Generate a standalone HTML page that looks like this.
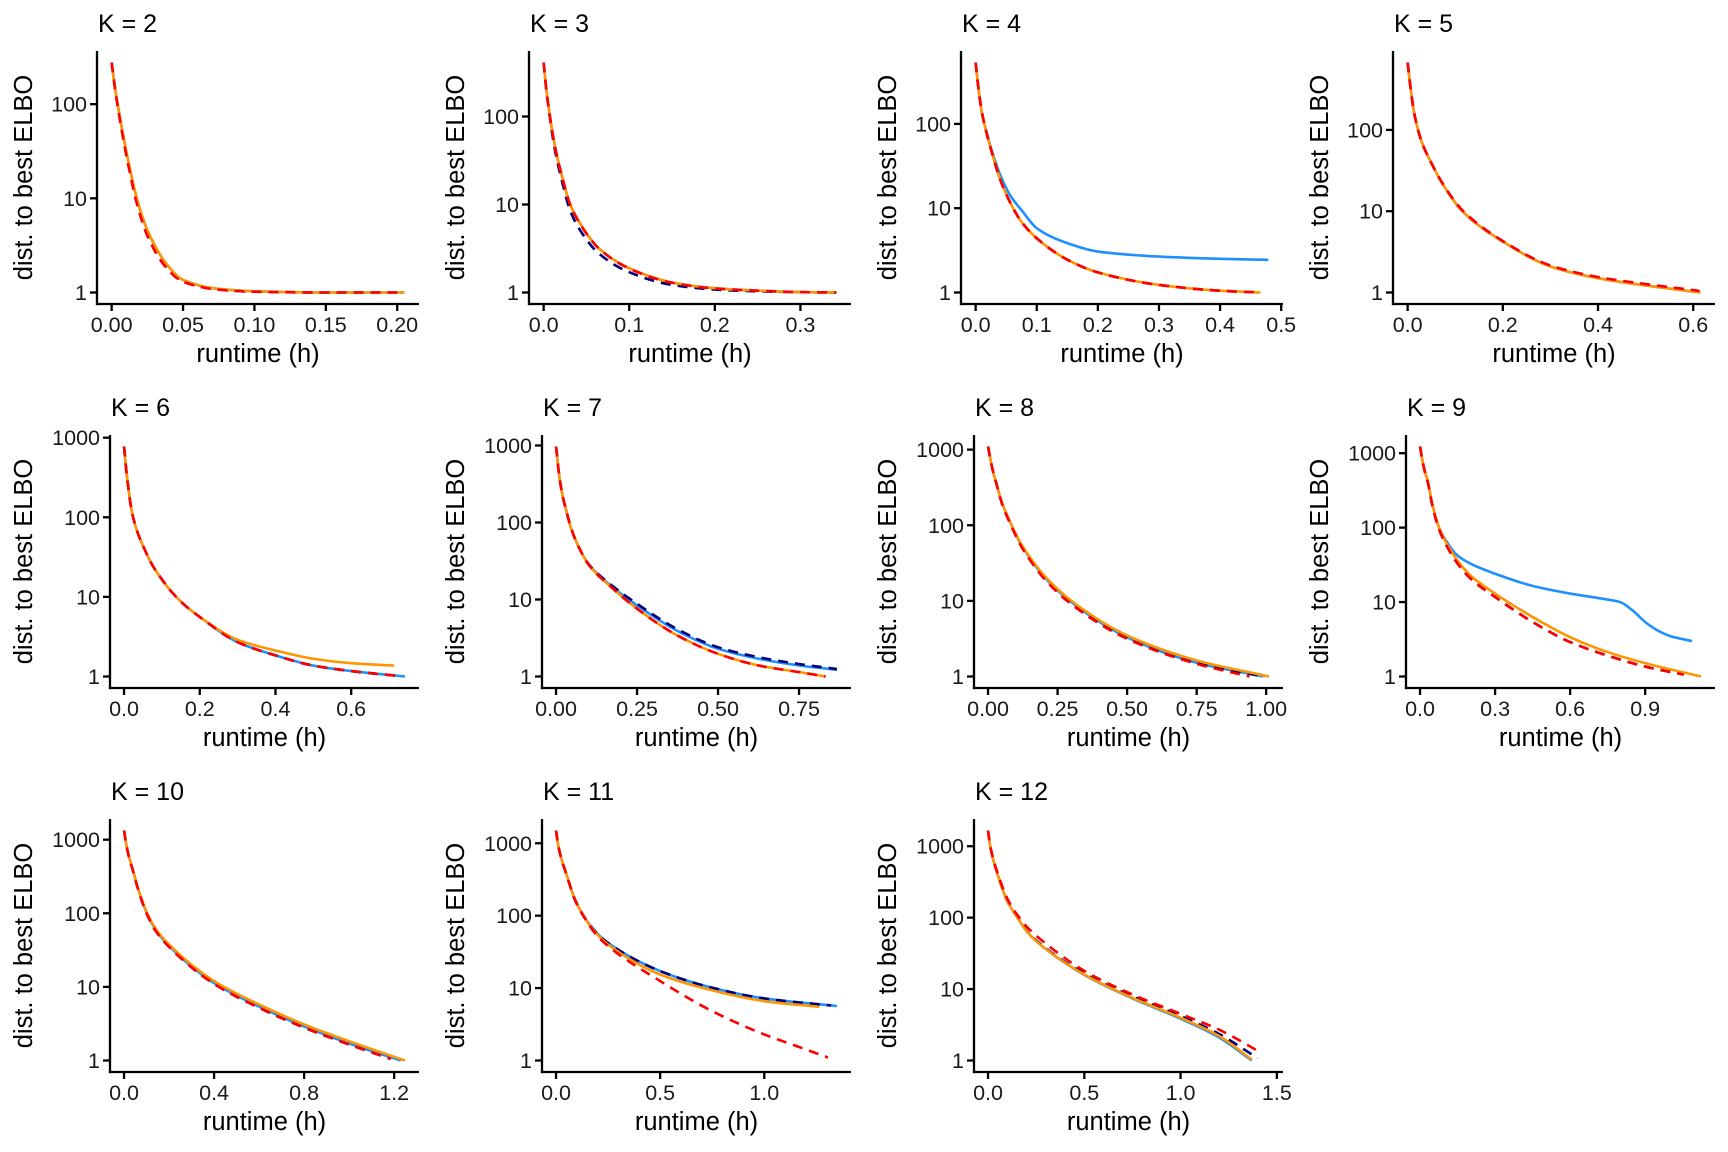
<!DOCTYPE html>
<html><head><meta charset="utf-8"><style>
html,body{margin:0;padding:0;background:#fff;}
svg{display:block;font-family:"Liberation Sans",Arial,sans-serif;}
</style></head><body>
<svg id="chart" width="1728" height="1152" viewBox="0 0 1728 1152" xmlns="http://www.w3.org/2000/svg"></svg>
<script>
// ---- data (runtime in hours, distance to best ELBO) ----
const panelK = [2,3,4,5,6,7,8,9,10,11,12];
const panelXmax = [0.205,0.342,0.479,0.615,0.742,0.867,1.01,1.123,1.248,1.349,1.459];
const xTicks = [[0,0.05,0.1,0.15,0.2],[0,0.1,0.2,0.3],[0,0.1,0.2,0.3,0.4,0.5],[0,0.2,0.4,0.6],[0,0.2,0.4,0.6],[0,0.25,0.5,0.75],[0,0.25,0.5,0.75,1],[0,0.3,0.6,0.9],[0,0.4,0.8,1.2],[0,0.5,1.0],[0,0.5,1.0,1.5]];
const xTickLabels = [["0.00","0.05","0.10","0.15","0.20"],["0.0","0.1","0.2","0.3"],["0.0","0.1","0.2","0.3","0.4","0.5"],["0.0","0.2","0.4","0.6"],["0.0","0.2","0.4","0.6"],["0.00","0.25","0.50","0.75"],["0.00","0.25","0.50","0.75","1.00"],["0.0","0.3","0.6","0.9"],["0.0","0.4","0.8","1.2"],["0.0","0.5","1.0"],["0.0","0.5","1.0","1.5"]];
const yTicks = [1,10,100,1000];
const yTickLabels = ["1","10","100","1000"];

const k2_x = [0,0.0025,0.005,0.0075,0.01,0.013,0.016,0.02,0.025,0.038,0.05,0.075,0.1,0.15,0.205];
const k2_blue = [277,145,85,52,33,20,12.5,7.5,4.6,2.05,1.36,1.09,1.03,1.0,1.0];
const k2_orange = [277,145,85,52,33,20,12.5,7.5,4.6,2.05,1.36,1.09,1.03,1.0,1.0];
const k2_xr = [0,0.0025,0.005,0.0075,0.01,0.013,0.016,0.02,0.025,0.038,0.05,0.075,0.1,0.15,0.2];
const k2_navy = [277,142,82,50,31,19,11.8,7.0,4.3,1.95,1.33,1.08,1.02,1.0,1.0];
const k2_red = [277,140,80,48,30,18,11,6.6,4.0,1.85,1.3,1.07,1.02,1.0,1.0];

const k3_x = [0,0.0035,0.0074,0.011,0.015,0.022,0.031,0.045,0.064,0.1,0.15,0.2,0.25,0.3,0.342];
const k3_blue = [411,190,100,60,38,20,10,5.6,3.2,1.89,1.3,1.12,1.05,1.01,1.0];
const k3_orange = [411,190,100,60,38,20,10,5.6,3.2,1.89,1.3,1.12,1.05,1.01,1.0];
const k3_navy = [411,185,95,55,34,17.5,8.5,4.7,2.8,1.7,1.22,1.08,1.03,1.01,1.0];
const k3_red = [411,190,100,60,38,20,10,5.5,3.2,1.87,1.29,1.11,1.05,1.01,1.0];

const k4_xo = [0,0.005,0.01,0.015,0.02,0.0285,0.04,0.057,0.075,0.1,0.15,0.2,0.3,0.4,0.466];
const k4_orange = [535,250,140,95,68,41,22,11.5,6.9,4.4,2.45,1.73,1.23,1.05,1.0];
const k4_navy = [535,250,140,95,68,41,22,11.5,6.9,4.4,2.45,1.73,1.23,1.05,1.0];
const k4_red = [535,250,140,95,68,41,22,11.5,6.9,4.4,2.45,1.73,1.23,1.05,1.0];
const k4_xb = [0,0.005,0.01,0.015,0.02,0.0285,0.04,0.057,0.075,0.1,0.15,0.2,0.3,0.4,0.479];
const k4_blue = [535,250,140,96,70,43,25,14,9.5,5.8,3.85,3.06,2.67,2.51,2.44];

const k5_x = [0,0.004,0.008,0.013,0.02,0.03,0.05,0.075,0.115,0.2,0.3,0.4,0.5,0.615];
const k5_blue = [675,420,270,170,110,70,39,21,10,4.24,2.09,1.5,1.22,1.0];
const k5_orange = [675,420,270,170,110,70,39,21,10,4.24,2.09,1.5,1.22,1.0];
const k5_navy = [675,420,270,170,110,70,39,21,10,4.24,2.12,1.52,1.24,1.02];
const k5_xr = [0,0.004,0.008,0.013,0.02,0.03,0.05,0.075,0.115,0.2,0.3,0.4,0.5,0.612];
const k5_red = [675,420,270,170,110,70,39,21.3,10.3,4.3,2.15,1.55,1.27,1.05];

const k6_xb = [0,0.004,0.008,0.012,0.017,0.024,0.035,0.05,0.075,0.1,0.126,0.16,0.2,0.3,0.4,0.5,0.6,0.742];
const k6_blue = [775,480,316,224,148,100,66,44,25,16.6,11.5,7.9,5.6,2.7,1.84,1.37,1.17,1.0];
const k6_xo = [0,0.004,0.008,0.012,0.017,0.024,0.035,0.05,0.075,0.1,0.126,0.16,0.2,0.3,0.4,0.5,0.6,0.713];
const k6_orange = [775,480,316,224,148,100,66,44,25,16.6,11.5,7.9,5.6,2.89,2.12,1.67,1.47,1.37];
const k6_xr = [0,0.004,0.008,0.012,0.017,0.024,0.035,0.05,0.075,0.1,0.126,0.16,0.2,0.3,0.4,0.5,0.6,0.722];
const k6_navy = [775,480,316,224,148,100,66,44,25,16.6,11.5,7.9,5.6,2.7,1.84,1.37,1.17,1.02];
const k6_red = [775,480,316,224,148,100,66,44,25,16.6,11.5,7.9,5.6,2.7,1.84,1.37,1.17,1.02];

const k7_xb = [0,0.01,0.02,0.03,0.047,0.07,0.1,0.17,0.25,0.375,0.5,0.625,0.75,0.867];
const k7_blue = [970,400,224,151,83,48,29,15,8.4,3.9,2.29,1.7,1.39,1.22];
const k7_navy = [970,400,224,151,83,48,29,15.5,8.8,4.1,2.4,1.78,1.45,1.25];
const k7_xo = [0,0.01,0.02,0.03,0.047,0.07,0.1,0.17,0.25,0.375,0.5,0.625,0.75,0.832];
const k7_orange = [970,400,224,151,83,48,28.5,14.5,7.6,3.4,1.97,1.39,1.14,1.0];
const k7_red = [970,400,224,151,83,48,28.5,14.5,7.6,3.4,1.97,1.39,1.14,1.0];

const k8_xo = [0,0.01,0.02,0.03,0.05,0.085,0.115,0.15,0.2,0.3,0.5,0.75,1.01];
const k8_orange = [1100,700,480,355,200,100,60,38,22,10,3.49,1.63,1.0];
const k8_xb = [0,0.01,0.02,0.03,0.05,0.085,0.115,0.15,0.2,0.3,0.5,0.75,0.99];
const k8_blue = [1100,700,480,355,200,100,59,37,21.2,9.6,3.3,1.52,1.0];
const k8_navy = [1100,700,480,355,196,97,57,36,20.5,9.2,3.2,1.5,1.0];
const k8_xr = [0,0.01,0.02,0.03,0.05,0.085,0.115,0.15,0.2,0.3,0.5,0.75,0.94];
const k8_red = [1100,700,480,355,193,95,56,35,20,9.0,3.15,1.47,1.0];

const k9_xb = [0,0.01,0.02,0.03,0.05,0.076,0.11,0.15,0.2,0.3,0.45,0.6,0.75,0.8,0.85,0.9,0.95,1.0,1.087];
const k9_blue = [1230,780,560,430,200,100,62,42,33,24,16.5,13,10.8,10,7.7,5.4,4.15,3.49,2.99];
const k9_xo = [0,0.01,0.02,0.03,0.05,0.076,0.11,0.15,0.2,0.3,0.45,0.6,0.75,0.9,1.123];
const k9_orange = [1230,780,560,430,200,100,58,36,23,13,6.3,3.38,2.13,1.51,1.0];
const k9_xr = [0,0.01,0.02,0.03,0.05,0.076,0.11,0.15,0.2,0.3,0.45,0.6,0.75,0.9,1.054];
const k9_navy = [1230,780,550,420,192,95,54,33,21,11.7,5.4,2.9,1.91,1.36,1.06];
const k9_red = [1230,780,550,420,192,95,54,33,21,11.7,5.4,2.9,1.91,1.36,1.06];

const k10_xo = [0,0.01,0.02,0.04,0.06,0.08,0.1,0.14,0.2,0.4,0.6,0.8,1.0,1.248];
const k10_orange = [1333,860,620,380,230,150,105,62,37.6,12,5.77,3.09,1.83,1.0];
const k10_xb = [0,0.01,0.02,0.04,0.06,0.08,0.1,0.14,0.2,0.4,0.6,0.8,1.0,1.23];
const k10_blue = [1333,860,620,380,228,148,103,60,36,11.3,5.4,2.9,1.7,1.0];
const k10_xr = [0,0.01,0.02,0.04,0.06,0.08,0.1,0.14,0.2,0.4,0.6,0.8,1.0,1.185];
const k10_navy = [1333,860,610,375,224,145,100,58,35,11,5.2,2.8,1.65,1.05];
const k10_red = [1333,860,610,375,224,145,100,58,35,11,5.2,2.8,1.65,1.05];

const k11_xb = [0,0.01,0.025,0.05,0.09,0.132,0.19,0.25,0.5,0.75,1.0,1.349];
const k11_blue = [1500,950,620,372,170,100,60,42,17.2,10.1,7.2,5.65];
const k11_xn = [0,0.01,0.025,0.05,0.09,0.132,0.19,0.25,0.5,0.75,1.0,1.32];
const k11_navy = [1500,950,620,372,170,100,60,42,17.2,10.1,7.2,5.75];
const k11_xo = [0,0.01,0.025,0.05,0.09,0.132,0.19,0.25,0.5,0.75,1.0,1.265];
const k11_orange = [1500,950,620,372,168,99,58,40,15.4,9.3,6.6,5.5];
const k11_xr = [0,0.01,0.025,0.05,0.09,0.132,0.19,0.25,0.5,0.75,1.0,1.15,1.306];
const k11_red = [1500,950,620,372,166,98,56,38,12.5,4.8,2.29,1.6,1.1];

const k12_xo = [0,0.01,0.025,0.05,0.1,0.153,0.2,0.25,0.5,0.75,1.0,1.2,1.37];
const k12_orange = [1660,1050,680,400,170,100,65,47,16,7.54,3.97,2.2,1.03];
const k12_blue = [1660,1050,680,400,170,100,65,47,15.8,7.4,3.85,2.1,1.0];
const k12_xn = [0,0.01,0.025,0.05,0.1,0.153,0.2,0.25,0.5,0.75,1.0,1.2,1.4];
const k12_navy = [1660,1050,680,400,170,100,66,48,16.5,7.9,4.2,2.35,1.08];
const k12_xr = [0,0.01,0.025,0.05,0.1,0.153,0.2,0.25,0.5,0.75,1.0,1.2,1.42];
const k12_red = [1660,1060,700,420,185,108,75,56,18,8.4,4.5,2.7,1.28];

const panelSeries = [
  [[k2_x,k2_blue],[k2_xr,k2_navy],[k2_x,k2_orange],[k2_xr,k2_red]],
  [[k3_x,k3_blue],[k3_x,k3_navy],[k3_x,k3_orange],[k3_x,k3_red]],
  [[k4_xb,k4_blue],[k4_xo,k4_navy],[k4_xo,k4_orange],[k4_xo,k4_red]],
  [[k5_x,k5_blue],[k5_x,k5_navy],[k5_x,k5_orange],[k5_xr,k5_red]],
  [[k6_xb,k6_blue],[k6_xr,k6_navy],[k6_xo,k6_orange],[k6_xr,k6_red]],
  [[k7_xb,k7_blue],[k7_xb,k7_navy],[k7_xo,k7_orange],[k7_xo,k7_red]],
  [[k8_xb,k8_blue],[k8_xb,k8_navy],[k8_xo,k8_orange],[k8_xr,k8_red]],
  [[k9_xb,k9_blue],[k9_xr,k9_navy],[k9_xo,k9_orange],[k9_xr,k9_red]],
  [[k10_xb,k10_blue],[k10_xr,k10_navy],[k10_xo,k10_orange],[k10_xr,k10_red]],
  [[k11_xb,k11_blue],[k11_xn,k11_navy],[k11_xo,k11_orange],[k11_xr,k11_red]],
  [[k12_xo,k12_blue],[k12_xn,k12_navy],[k12_xo,k12_orange],[k12_xr,k12_red]]
];
const seriesNames = ["blue","navy","orange","red"];

// ---- styles ----
const seriesColor = ["#1E90FF","#00007A","#FF9500","#FF0000"];
const seriesDash = [null,"10 7",null,"10 7"];
const NS = "http://www.w3.org/2000/svg";
const svg = document.getElementById("chart");
function mk(tag, attrs, parent){ const e=document.createElementNS(NS,tag); for(const k in attrs) e.setAttribute(k,attrs[k]); (parent||svg).appendChild(e); return e; }

function monotonePath(pts){
  const n=pts.length; if(n<2) return "";
  const dx=[],m=[],t=[];
  for(let i=0;i<n-1;i++){dx[i]=pts[i+1][0]-pts[i][0]; m[i]=(pts[i+1][1]-pts[i][1])/dx[i];}
  t[0]=m[0]; t[n-1]=m[n-2];
  for(let i=1;i<n-1;i++){ if(m[i-1]*m[i]<=0) t[i]=0; else { const w1=2*dx[i]+dx[i-1], w2=dx[i]+2*dx[i-1]; t[i]=(w1+w2)/(w1/m[i-1]+w2/m[i]); } }
  let d="M"+pts[0][0].toFixed(2)+","+pts[0][1].toFixed(2);
  for(let i=0;i<n-1;i++){
    const h=dx[i];
    d+=" C"+(pts[i][0]+h/3).toFixed(2)+","+(pts[i][1]+t[i]*h/3).toFixed(2)+" "+(pts[i+1][0]-h/3).toFixed(2)+","+(pts[i+1][1]-t[i+1]*h/3).toFixed(2)+" "+pts[i+1][0].toFixed(2)+","+pts[i+1][1].toFixed(2);
  }
  return d;
}

panelK.forEach((K, p) => {
  const ox = (p%4)*432, oy = Math.floor(p/4)*384;
  const series = panelSeries[p];
  let yMax = 1;
  series.forEach(s => s[1].forEach(v => { if(v>yMax) yMax=v; }));
  const lmax = Math.log10(yMax);
  const yLo = -0.05*lmax, yHi = lmax*1.05;
  const top = oy+51, bot = oy+304;
  const ysc = v => bot - (Math.log10(v)-yLo)/(yHi-yLo)*(bot-top);
  const visTicks = yTicks.filter(t => Math.log10(t)>=yLo && Math.log10(t)<=yHi);
  const wide = visTicks.indexOf(1000)>=0;
  const left = ox + (wide ? 110 : 97), right = ox + 419;
  const xm = panelXmax[p];
  const xLo = -0.05*xm, xHi = xm*1.05;
  const xsc = v => left + (v-xLo)/(xHi-xLo)*(right-left);

  const g = mk("g", {});
  
  

  const title = mk("text", {x:left+1, y:oy+32, "font-size":"25px", fill:"#000"}, g);
  title.textContent = "K = " + K;
  
  

  series.forEach((s, si) => {
    const pts = s[0].map((xv,i) => [xsc(xv), ysc(s[1][i])]);
    const attrs = {d:monotonePath(pts), fill:"none", stroke:seriesColor[si], "stroke-width":"2.6"};
    if(seriesDash[si]) attrs["stroke-dasharray"]=seriesDash[si];
    const path = mk("path", attrs, g);
    
    
  });

  const ya = mk("line", {x1:left, y1:top, x2:left, y2:bot+1.1, stroke:"#000", "stroke-width":"2.3"}, g);
  
  
  const xa = mk("line", {x1:left-1.1, y1:bot, x2:right, y2:bot, stroke:"#000", "stroke-width":"2.3"}, g);
  
  

  visTicks.forEach(t => {
    const yy = ysc(t);
    const tk = mk("line", {x1:left-7, y1:yy, x2:left, y2:yy, stroke:"#000", "stroke-width":"2.3"}, g);
    
    
    const lb = mk("text", {x:left-10, y:yy+7.5, "font-size":"21.5px", "text-anchor":"end", fill:"#1a1a1a"}, g);
    lb.textContent = yTickLabels[yTicks.indexOf(t)];
    
    
  });
  xTicks[p].forEach((t, i) => {
    const xx = xsc(t);
    const tk = mk("line", {x1:xx, y1:bot, x2:xx, y2:bot+7, stroke:"#000", "stroke-width":"2.3"}, g);
    
    
    const lb = mk("text", {x:xx, y:oy+332, "font-size":"21.5px", "text-anchor":"middle", fill:"#1a1a1a"}, g);
    lb.textContent = xTickLabels[p][i];
    
    
  });

  const xt = mk("text", {x:(left+right)/2, y:oy+362, "font-size":"25.5px", "text-anchor":"middle", fill:"#000"}, g);
  xt.textContent = "runtime (h)";
  
  
  const cy = (top+bot)/2, cx = ox+32;
  const yt = mk("text", {x:cx, y:cy, "font-size":"25.5px", "text-anchor":"middle", fill:"#000", transform:"rotate(-90 "+cx+" "+cy+")"}, g);
  yt.textContent = "dist. to best ELBO";
  
  
});
</script>
</body></html>
